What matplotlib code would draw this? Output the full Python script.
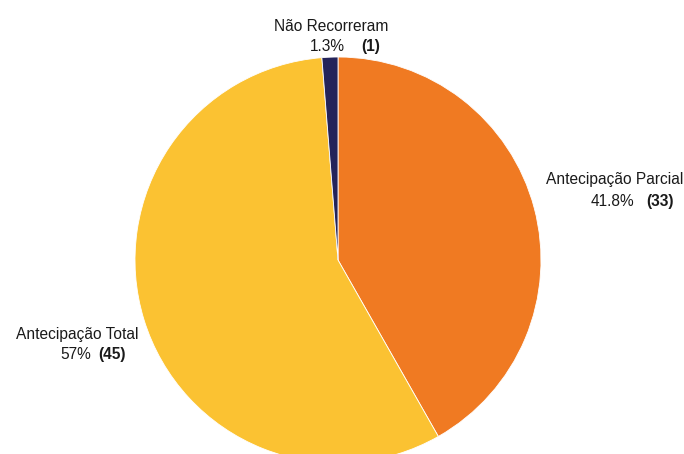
import matplotlib
matplotlib.use("Agg")
import matplotlib.pyplot as plt

# data
labels = ["Antecipação Parcial", "Antecipação Total", "Não Recorreram"]
counts = [33, 45, 1]
pcts = ["41.8%", "57%", "1.3%"]
colors = ["#F07A22", "#FBC232", "#24245A"]

W, H = 684, 454
fig = plt.figure(figsize=(W / 100, H / 100), dpi=100)
ax = fig.add_axes([0, 0, 1, 1])

# pie in pixel units (y measured from bottom)
ax.pie(counts, colors=colors, startangle=90, counterclock=False,
       center=(338, H - 260), radius=203, frame=True,
       wedgeprops={"edgecolor": "white", "linewidth": 0.6})
ax.set_xlim(0, W)
ax.set_ylim(0, H)
ax.axis("off")

font = "Liberation Sans"
fs = 11.2
tc = "#1a1a1a"

def put_label(name, name_x, name_y, pct, pct_right, cnt, cnt_left, line2_y):
    ax.text(name_x, H - name_y, name, ha="right", va="baseline",
            fontsize=fs, family=font, color=tc)
    ax.text(pct_right, H - line2_y, pct, ha="right", va="baseline",
            fontsize=fs, family=font, color=tc)
    ax.text(cnt_left, H - line2_y, f"({cnt})", ha="left", va="baseline",
            fontsize=fs, family=font, fontweight="bold", color=tc)

# Antecipação Parcial
put_label(labels[0], 683, 184, pcts[0], 634, counts[0], 646, 206)
# Antecipação Total
put_label(labels[1], 138, 339, pcts[1], 91, counts[1], 98, 359)
# Não Recorreram
put_label(labels[2], 388, 31, pcts[2], 345, counts[2], 361, 51)

fig.savefig("out.png", dpi=100)
